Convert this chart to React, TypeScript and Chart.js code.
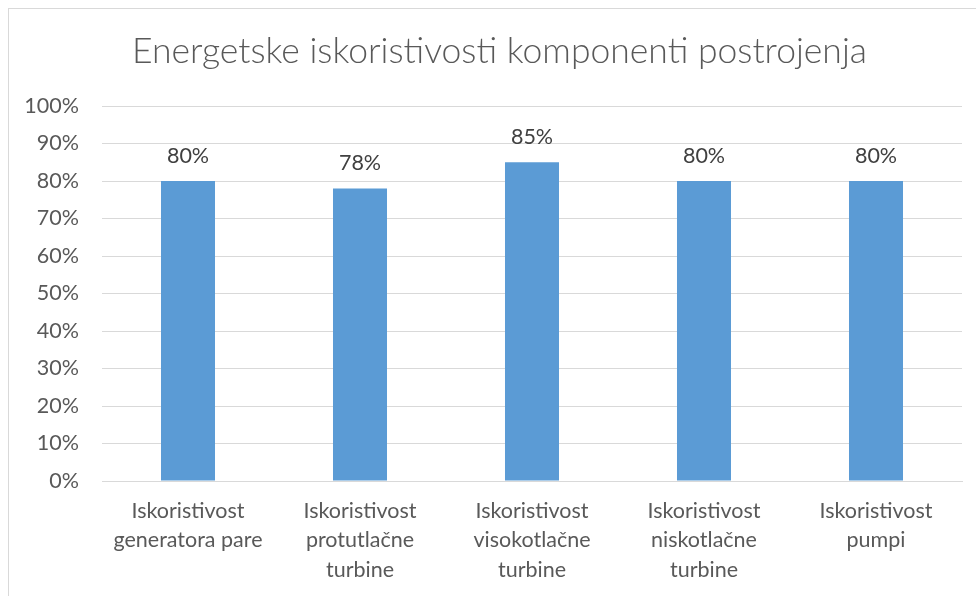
import React, { useEffect, useRef } from "react";
import { Chart, registerables } from "chart.js";

Chart.register(...registerables);

const categories: string[][] = [
  ["Iskoristivost", "generatora pare"],
  ["Iskoristivost", "protutlačne", "turbine"],
  ["Iskoristivost", "visokotlačne", "turbine"],
  ["Iskoristivost", "niskotlačne", "turbine"],
  ["Iskoristivost", "pumpi"],
];
const values: number[] = [0.8, 0.78, 0.85, 0.8, 0.8];
const titleText = "Energetske iskoristivosti komponenti postrojenja";
const FONT = "Lato, 'Open Sans', sans-serif";

const frame = {
  id: "frame",
  beforeDraw(chart: any) {
    const c = chart.ctx;
    c.save();
    c.fillStyle = "#ffffff";
    c.fillRect(0, 0, chart.width, chart.height);
    c.strokeStyle = "#d9d9d9";
    c.lineWidth = 1;
    c.strokeRect(8.5, 8.5, chart.width + 20, chart.height + 20);
    c.restore();
  },
  afterDraw(chart: any) {
    const c = chart.ctx;
    c.save();
    c.font = `300 35.5px ${FONT}`;
    c.fillStyle = "#595959";
    c.textAlign = "center";
    c.textBaseline = "middle";
    c.fillText(titleText, 499.5, 52);
    c.restore();
  },
};

const dataLabels = {
  id: "dataLabels",
  afterDatasetsDraw(chart: any) {
    const c = chart.ctx;
    const meta = chart.getDatasetMeta(0);
    c.save();
    c.font = `21.5px ${FONT}`;
    c.fillStyle = "#404040";
    c.textAlign = "center";
    c.textBaseline = "middle";
    meta.data.forEach((bar: any, i: number) => {
      c.fillText(Math.round(values[i] * 100) + "%", bar.x, bar.y - 25);
    });
    c.restore();
  },
};

export default function App() {
  const ref = useRef<HTMLCanvasElement>(null);
  useEffect(() => {
    const chart = new Chart(ref.current!, {
      type: "bar",
      data: {
        labels: categories,
        datasets: [
          {
            data: values,
            backgroundColor: "#5b9bd5",
            barPercentage: 0.314,
            categoryPercentage: 1,
          },
        ],
      },
      options: {
        animation: false,
        responsive: false,
        layout: { padding: { left: 0, right: 14, top: 106, bottom: 0 } },
        plugins: {
          legend: { display: false },
          tooltip: { enabled: false },
          title: { display: false },
        },
        scales: {
          y: {
            min: 0,
            max: 1,
            afterFit: (s: any) => {
              s.width = 102;
            },
            border: { display: false },
            grid: { color: "#d9d9d9", drawTicks: false },
            ticks: {
              stepSize: 0.1,
              padding: 23,
              color: "#595959",
              font: { family: FONT, size: 21.5 },
              callback: (v: any) => Math.round(Number(v) * 100) + "%",
            },
          },
          x: {
            afterFit: (s: any) => {
              s.height = 115;
            },
            border: { color: "#d9d9d9" },
            grid: { display: false, drawTicks: false },
            ticks: {
              padding: 16,
              color: "#595959",
              maxRotation: 0,
              autoSkip: false,
              font: { family: FONT, size: 21.5, lineHeight: 1.35 },
            },
          },
        },
      },
      plugins: [frame, dataLabels],
    });
    return () => chart.destroy();
  }, []);
  return (
    <div style={{ position: "fixed", left: 0, top: 0, width: 976, height: 596 }}>
      <canvas ref={ref} width={976} height={596} style={{ display: "block" }} />
    </div>
  );
}
